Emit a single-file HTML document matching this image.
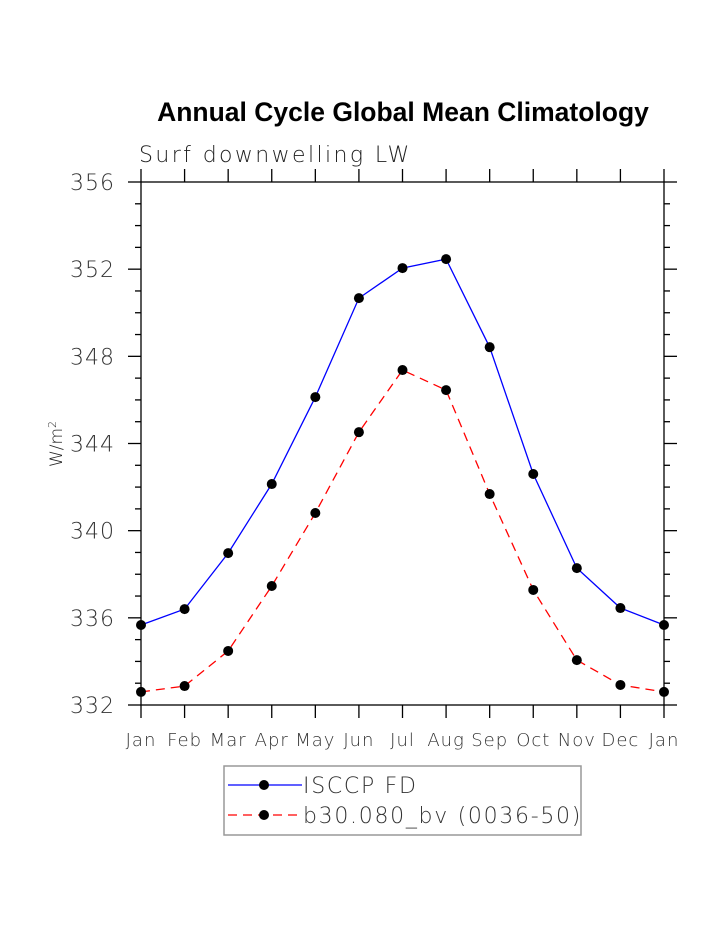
<!DOCTYPE html>
<html><head><meta charset="utf-8"><style>body{margin:0;background:#fff}svg{display:block}</style></head>
<body>
<svg width="723" height="935" xmlns="http://www.w3.org/2000/svg">
<text x="403" y="121" text-anchor="middle" font-family="Liberation Sans, sans-serif" font-weight="bold" font-size="26.5">Annual Cycle Global Mean Climatology</text>
<text x="139" y="162" font-family="DejaVu Sans, sans-serif" font-weight="200" font-size="22" fill="#222" letter-spacing="2.4">Surf downwelling LW</text>
<text transform="translate(62,444) rotate(-90)" text-anchor="middle" font-family="DejaVu Sans, sans-serif" font-weight="200" font-size="17" fill="#222">W/m<tspan dy="-6" font-size="11">2</tspan></text>
<g id="axes"></g>
<g id="series"></g>
<rect x="224" y="766" width="357" height="69" fill="none" stroke="#999" stroke-width="1.5"/>
<g>
<line x1="228" y1="785" x2="302" y2="785" stroke="#00f" stroke-width="1.3"/><circle cx="264" cy="785" r="5"/>
<text x="303" y="793" font-family="DejaVu Sans, sans-serif" font-weight="200" font-size="22" fill="#333" letter-spacing="1.7">ISCCP FD</text></g>
<g>
<line x1="228" y1="815" x2="302" y2="815" stroke="#f00" stroke-width="1.3" stroke-dasharray="9,6"/><circle cx="264" cy="815" r="5"/>
<text x="303" y="823" font-family="DejaVu Sans, sans-serif" font-weight="200" font-size="22" fill="#333" letter-spacing="1.7">b30.080_bv (0036-50)</text></g>
</svg>
<script>
const months=["Jan","Feb","Mar","Apr","May","Jun","Jul","Aug","Sep","Oct","Nov","Dec","Jan"];
const isccp=[335.67,336.4,338.97,342.14,346.13,350.67,352.05,352.46,348.42,342.6,338.28,336.45,335.67];
const model=[332.6,332.87,334.48,337.46,340.81,344.52,347.37,346.45,341.68,337.28,334.06,332.92,332.6];
const yTicks=[332,336,340,344,348,352,356];
const NS="http://www.w3.org/2000/svg";
const X0=141,X1=664,Y0=705,Y1=182,YMIN=332,YMAX=356;
const xs=i=>X0+(X1-X0)*i/(months.length-1);
const ys=v=>Y0-(v-YMIN)*(Y0-Y1)/(YMAX-YMIN);
function mk(t,a,p){const e=document.createElementNS(NS,t);for(const k in a)e.setAttribute(k,a[k]);p.appendChild(e);return e;}
const ax=document.getElementById('axes');
mk('rect',{x:X0,y:Y1,width:X1-X0,height:Y0-Y1,fill:'none',stroke:'#000','stroke-width':1.3},ax);
months.forEach((m,i)=>{const x=xs(i);
mk('line',{x1:x,y1:Y0,x2:x,y2:Y0+13,stroke:'#000','stroke-width':1.3},ax);
mk('line',{x1:x,y1:Y1,x2:x,y2:Y1-13,stroke:'#000','stroke-width':1.3},ax);
const t=mk('text',{x:x,y:Y0+41,'text-anchor':'middle','font-family':'DejaVu Sans, sans-serif','font-weight':'200','font-size':18,fill:'#333','letter-spacing':1},ax);t.textContent=m;

});
for(let v=YMIN;v<=YMAX;v++){const y=ys(v);const maj=yTicks.includes(v);const L=maj?13:6;
mk('line',{x1:X0-L,y1:y,x2:X0,y2:y,stroke:'#000','stroke-width':1.3},ax);
mk('line',{x1:X1,y1:y,x2:X1+L,y2:y,stroke:'#000','stroke-width':1.3},ax);}
yTicks.forEach(v=>{const t=mk('text',{x:115,y:ys(v)+8,'text-anchor':'end','font-family':'DejaVu Sans, sans-serif','font-weight':'200','font-size':22,fill:'#333','letter-spacing':1},ax);t.textContent=v;

});
const sg=document.getElementById('series');
function series(vals,color,dash,name){const pts=vals.map((v,i)=>xs(i)+','+ys(v)).join(' ');
const pl=mk('polyline',{points:pts,fill:'none',stroke:color,'stroke-width':1.3,'stroke-dasharray':dash},sg);


vals.forEach((v,i)=>{const c=mk('circle',{cx:xs(i),cy:ys(v),r:5,fill:'#000'},sg);

});}
series(isccp,'#00f','none','isccp');
series(model,'#f00','9,6','b30');
</script>
</body></html>
